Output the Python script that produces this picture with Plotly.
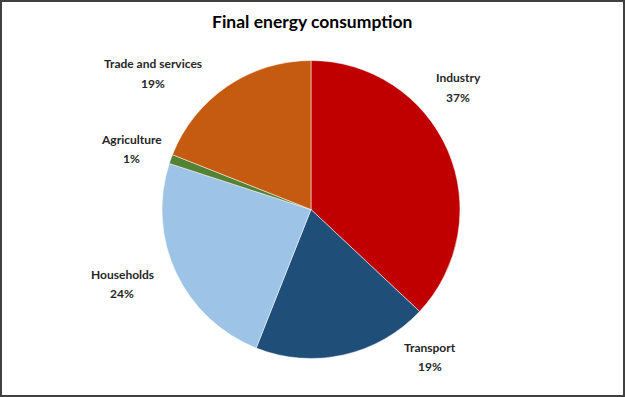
import plotly.graph_objects as go

# Data
categories = ["Industry", "Transport", "Households", "Agriculture", "Trade and services"]
shares = [37, 19, 24, 1, 19]
colors = ["#C00000", "#1F4E79", "#9DC3E6", "#548235", "#C55A11"]

W, H = 625, 397
# label positions in pixels (x centre, y of name line, y of percent line) - layout only
label_pos = {
    "Industry": (458, 78, 97),
    "Transport": (430, 347, 366),
    "Households": (122, 274, 293),
    "Agriculture": (131, 140, 158),
    "Trade and services": (153, 64, 83),
}

fig = go.Figure(go.Pie(
    labels=categories,
    values=shares,
    sort=False,
    direction="clockwise",
    rotation=0,
    marker=dict(colors=colors, line=dict(color="white", width=0.5)),
    textinfo="none",
    hoverinfo="label+percent",
    domain=dict(x=[162 / W, 460 / W], y=[(H - 359) / H, (H - 60) / H]),
    showlegend=False,
))

lab_font = dict(family="Lato, Open Sans, sans-serif", size=12, color="#262626")
total = sum(shares)
for cat, val in zip(categories, shares):
    px, py1, py2 = label_pos[cat]
    for txt, py in ((cat, py1), (f"{round(val / total * 100)}%", py2)):
        fig.add_annotation(
            x=px / W, y=1 - py / H, xref="paper", yref="paper",
            text=f"<b>{txt}</b>", showarrow=False,
            xanchor="center", yanchor="middle", font=lab_font,
        )

fig.add_annotation(
    x=312 / W, y=1 - 22 / H, xref="paper", yref="paper",
    text="<b>Final energy consumption</b>", showarrow=False,
    xanchor="center", yanchor="middle",
    font=dict(family="Lato, Open Sans, sans-serif", size=17.5, color="#000000"),
)

fig.add_shape(type="rect", xref="paper", yref="paper", x0=0, y0=0, x1=1, y1=1,
              line=dict(color="#404040", width=4), layer="above")

fig.update_layout(
    width=W, height=H,
    margin=dict(l=0, r=0, t=0, b=0),
    paper_bgcolor="white", plot_bgcolor="white",
)

fig.write_html(
    "out.html",
    config={"displayModeBar": False},
    post_script="document.body.style.margin='0';document.body.style.overflow='hidden';",
)
